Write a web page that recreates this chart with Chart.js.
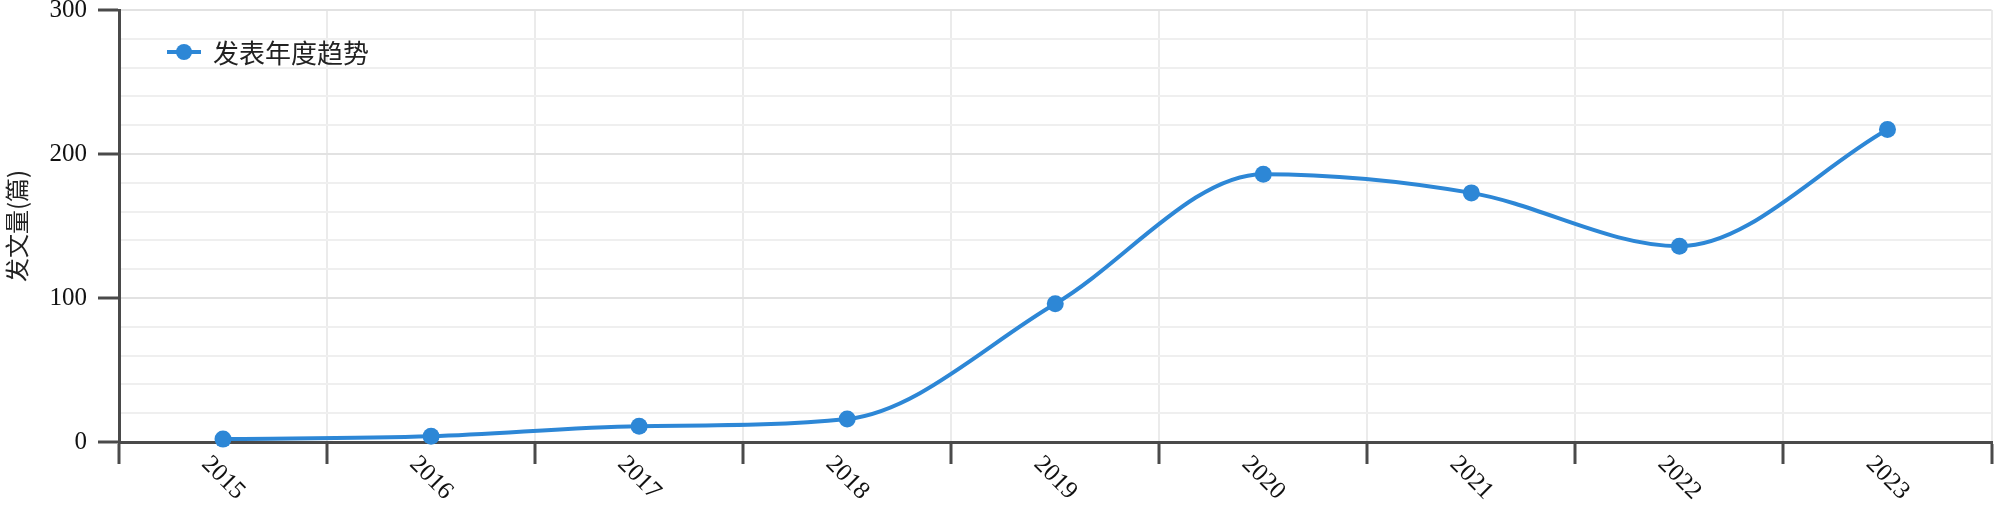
<!DOCTYPE html>
<html>
<head>
<meta charset="utf-8">
<script src="https://cdn.jsdelivr.net/npm/chart.js@4/dist/chart.umd.min.js"></script>
<style>
  html, body { margin: 0; padding: 0; background: #fff; }
  #wrap { width: 2000px; height: 507px; }
</style>
</head>
<body>
<div id="wrap"><canvas id="chart"></canvas></div>
<script>
var years = ['2015', '2016', '2017', '2018', '2019', '2020', '2021', '2022', '2023'];
var papers = [2, 4, 11, 16, 96, 186, 173, 136, 217];
var seriesName = '发表年度趋势';
var yTitle = '发文量(篇)';
var yTicks = [0, 100, 200, 300];

var blue = '#2d87d6',
    axisColor = '#4a4a4a',
    serif = '"Liberation Serif", "Times New Roman", serif',
    cjk = '"Noto Sans CJK SC", "Noto Sans", sans-serif';

// x labels are rotated clockwise, which chart.js can't do natively
var rotatedLabels = {
  id: 'rotatedLabels',
  afterDraw: function(chart) {
    var ctx = chart.ctx, xs = chart.scales.x;
    ctx.save();
    ctx.font = '25px ' + serif;
    ctx.fillStyle = '#111';
    ctx.textAlign = 'center';
    ctx.textBaseline = 'middle';
    for (var i = 0; i < years.length; i++) {
      ctx.save();
      ctx.translate(xs.getPixelForTick(i), xs.top + 36);
      ctx.rotate(Math.PI / 4);
      ctx.fillText(years[i], 0, 0);
      ctx.restore();
    }
    ctx.restore();
  }
};

// legend sits inside the plot, top-left
var innerLegend = {
  id: 'innerLegend',
  afterDraw: function(chart) {
    var ctx = chart.ctx, area = chart.chartArea;
    var x0 = area.left + 48, y0 = area.top + 42;
    ctx.save();
    ctx.strokeStyle = blue;
    ctx.lineWidth = 4;
    ctx.beginPath();
    ctx.moveTo(x0, y0);
    ctx.lineTo(x0 + 34, y0);
    ctx.stroke();
    ctx.fillStyle = blue;
    ctx.beginPath();
    ctx.arc(x0 + 17, y0, 8, 0, Math.PI * 2);
    ctx.fill();
    ctx.font = '26px ' + cjk;
    ctx.fillStyle = '#222';
    ctx.textBaseline = 'middle';
    ctx.fillText(chart.data.datasets[0].label, x0 + 46, y0 + 1);
    ctx.restore();
  }
};

new Chart(document.getElementById('chart'), {
  type: 'line',
  data: {
    labels: years,
    datasets: [{
      label: seriesName,
      data: papers,
      borderColor: blue,
      backgroundColor: blue,
      borderWidth: 4,
      cubicInterpolationMode: 'monotone',
      pointRadius: 8.5,
      pointBorderWidth: 0,
      pointBackgroundColor: blue,
      clip: false
    }]
  },
  options: {
    responsive: true,
    maintainAspectRatio: false,
    animation: false,
    layout: { padding: { top: 10, right: 7, left: 0, bottom: 0 } },
    plugins: { legend: { display: false }, tooltip: { enabled: false } },
    scales: {
      x: {
        offset: true,
        grid: {
          offset: true,
          color: '#ebebeb',
          lineWidth: 2,
          tickLength: 22,
          tickColor: axisColor,
          tickWidth: 3
        },
        border: { color: axisColor, width: 3 },
        ticks: { display: false },
        afterFit: function(s) { s.height = 65; }
      },
      y: {
        min: 0,
        max: 300,
        ticks: {
          stepSize: 20,
          maxTicksLimit: 40,
          autoSkip: false,
          padding: 11,
          color: '#111',
          font: { family: serif, size: 25 },
          callback: function(v) { return yTicks.indexOf(v) >= 0 ? v : ''; }
        },
        grid: {
          color: function(c) { return c.tick && c.tick.value % 100 === 0 ? '#e2e2e2' : '#efefef'; },
          lineWidth: 2,
          tickLength: 21,
          tickWidth: 3,
          tickColor: function(c) { return c.tick && c.tick.value % 100 === 0 ? axisColor : 'rgba(0,0,0,0)'; }
        },
        border: { color: axisColor, width: 3 },
        title: {
          display: true,
          text: yTitle,
          color: '#222',
          font: { family: cjk, size: 24 },
          padding: { top: 2, bottom: 0 }
        },
        afterFit: function(s) {
          s.width = 119;
          s.paddingTop = 0;
          s.paddingBottom = 0;
        }
      }
    }
  },
  plugins: [rotatedLabels, innerLegend]
});
</script>
</body>
</html>
